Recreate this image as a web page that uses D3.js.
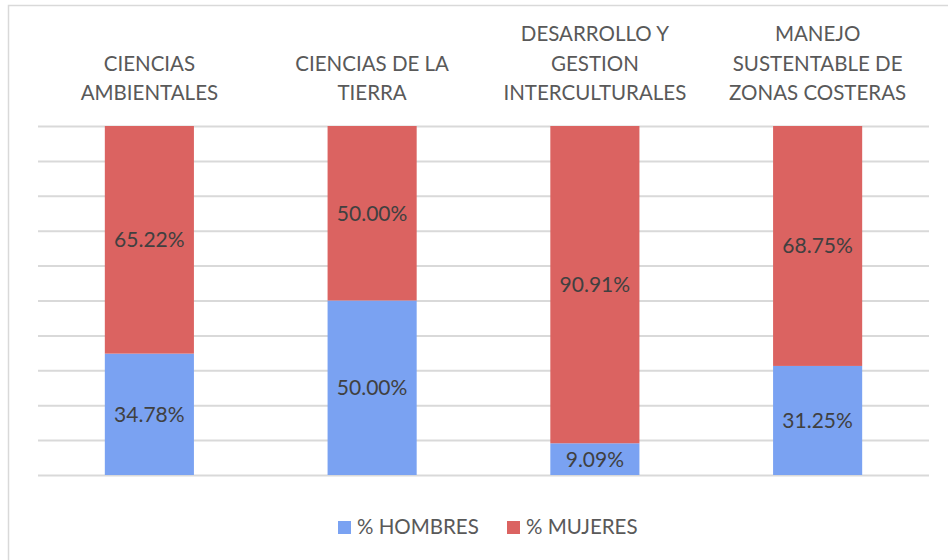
<!DOCTYPE html>
<html>
<head>
<meta charset="utf-8">
<script src="https://cdn.jsdelivr.net/npm/d3@7"></script>
<style>
  body { margin: 0; background: #fff; }
  text { font-family: Lato, "Open Sans", sans-serif; }
</style>
</head>
<body>
<script>
var width = 948;
var height = 560;

var margin = {top: 126, left: 38, right: 19, bottom: 85};

// data
var categories = ["CIENCIAS AMBIENTALES", "CIENCIAS DE LA TIERRA",
                  "DESARROLLO Y GESTION INTERCULTURALES",
                  "MANEJO SUSTENTABLE DE ZONAS COSTERAS"];
var labelLines = [["CIENCIAS", "AMBIENTALES"],
                  ["CIENCIAS DE LA", "TIERRA"],
                  ["DESARROLLO Y", "GESTION", "INTERCULTURALES"],
                  ["MANEJO", "SUSTENTABLE DE", "ZONAS COSTERAS"]];
var hombres = [34.78, 50.00, 9.09, 31.25];
var mujeres = [65.22, 50.00, 90.91, 68.75];
var seriesNames = ["% HOMBRES", "% MUJERES"];
var colors = ["#7AA2F2", "#DB6361"];

var svg = d3.select("body")
  .append("svg")
  .attr("width", width)
  .attr("height", height);

// chart border (extends beyond picture on the right and bottom)
svg.append("rect")
  .attr("x", 8.5).attr("y", 5.5)
  .attr("width", 960).attr("height", 580)
  .attr("fill", "none")
  .attr("stroke", "#d9d9d9")
  .attr("stroke-width", 1.5);

var xScale = d3.scaleBand()
  .domain(categories)
  .range([margin.left, width - margin.right])
  .paddingInner(0.6)
  .paddingOuter(0.3);

var yScale = d3.scaleLinear()
  .domain([0, 100])
  .range([height - margin.bottom, margin.top]);

// gridlines
var grid = svg.append("g")
  .attr("transform", "translate(" + margin.left + ",0)")
  .call(d3.axisLeft(yScale).ticks(10).tickSize(-(width - margin.left - margin.right)).tickFormat(""));
grid.select(".domain").remove();
grid.selectAll(".tick line").attr("stroke", "#d9d9d9").attr("stroke-width", 2);

// stacked data
var rows = categories.map(function(c, i) {
  return {cat: c, h: hombres[i], m: mujeres[i]};
});
var stack = d3.stack().keys(["h", "m"]);
var layers = stack(rows);

var layerG = svg.selectAll(".layer")
  .data(layers)
  .enter()
  .append("g")
  .attr("fill", function(d, i) { return colors[i]; });

layerG.selectAll("rect")
  .data(function(d) { return d; })
  .enter()
  .append("rect")
  .attr("x", function(d) { return xScale(d.data.cat); })
  .attr("y", function(d) { return yScale(d[1]); })
  .attr("width", xScale.bandwidth())
  .attr("height", function(d) { return yScale(d[0]) - yScale(d[1]); });

layerG.selectAll("text")
  .data(function(d) { return d; })
  .enter()
  .append("text")
  .attr("x", function(d) { return xScale(d.data.cat) + xScale.bandwidth() / 2; })
  .attr("y", function(d) { return (yScale(d[0]) + yScale(d[1])) / 2 + 7.5; })
  .attr("text-anchor", "middle")
  .attr("font-size", 21)
  .attr("fill", "#404040")
  .text(function(d) { return (d[1] - d[0]).toFixed(2) + "%"; });

// category labels on top
var xAxis = svg.append("g")
  .attr("transform", "translate(0,100)")
  .call(d3.axisTop(xScale).tickSize(0).tickFormat(""));
xAxis.select(".domain").remove();
xAxis.selectAll(".tick").each(function(d, i) {
  var lines = labelLines[i];
  var t = d3.select(this).append("text")
    .attr("text-anchor", "middle")
    .attr("font-size", 20.5)
    .attr("fill", "#595959");
  lines.forEach(function(l, j) {
    t.append("tspan")
      .attr("x", 0)
      .attr("y", -(lines.length - 1 - j) * 29.5)
      .text(l);
  });
});

// legend
var legend = svg.append("g").attr("transform", "translate(338,521)");
var legendX = [0, 169];
seriesNames.forEach(function(n, i) {
  var g = legend.append("g").attr("transform", "translate(" + legendX[i] + ",0)");
  g.append("rect").attr("width", 13).attr("height", 13).attr("fill", colors[i]);
  g.append("text")
    .attr("x", 19).attr("y", 12.5)
    .attr("font-size", 20.5)
    .attr("fill", "#595959")
    .text(n);
});
</script>
</body>
</html>
